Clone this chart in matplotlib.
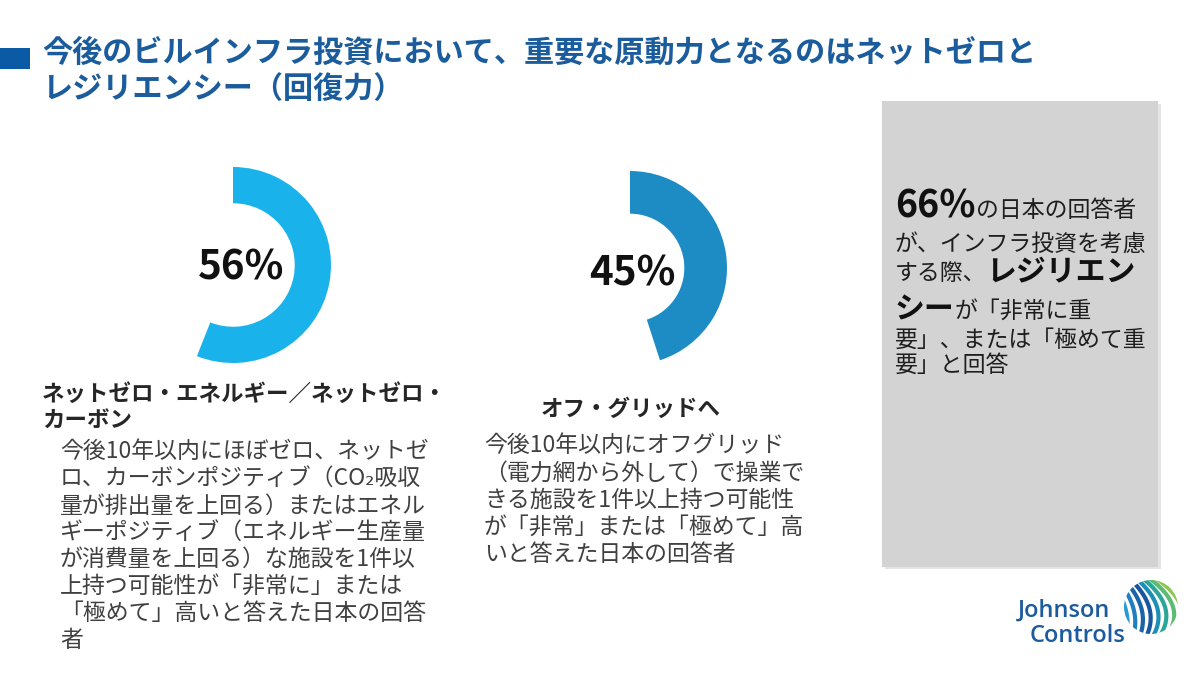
import matplotlib
matplotlib.use('Agg')
import matplotlib.pyplot as plt
from matplotlib.patches import Rectangle, Circle
import numpy as np

plt.rcParams['font.family'] = ['Noto Sans CJK JP', 'DejaVu Sans']

# data
pct_values = [56, 45]
pct_colors = ['#1AB2EB', '#1E8CC4']
callout_pct = 66

title_lines = ['今後のビルインフラ投資において、重要な原動力となるのはネットゼロと',
               'レジリエンシー（回復力）']

head_left = ['ネットゼロ・エネルギー／ネットゼロ・', 'カーボン']
body_left = ['今後10年以内にほぼゼロ、ネットゼ',
             'ロ、カーボンポジティブ（CO₂吸収',
             '量が排出量を上回る）またはエネル',
             'ギーポジティブ（エネルギー生産量',
             'が消費量を上回る）な施設を1件以',
             '上持つ可能性が「非常に」または',
             '「極めて」高いと答えた日本の回答',
             '者']
head_mid = 'オフ・グリッドへ'
body_mid = ['今後10年以内にオフグリッド',
            '（電力網から外して）で操業で',
            'きる施設を1件以上持つ可能性',
            'が「非常」または「極めて」高',
            'いと答えた日本の回答者']

# callout runs: (text, bold, size)
callout_lines = [
    [(f'{callout_pct}%', True, 27), ('の日本の回答者', False, 16.5)],
    [('が、インフラ投資を考慮', False, 16.5)],
    [('する際、', False, 16.5), ('レジリエン', True, 21.5)],
    [('シー', True, 21.5), ('が「非常に重', False, 16.5)],
    [('要」、または「極めて重', False, 16.5)],
    [('要」と回答', False, 16.5)],
]

W, H = 1200, 675
fig = plt.figure(figsize=(12, 6.75), dpi=100)
ax = fig.add_axes([0, 0, 1, 1])
ax.set_xlim(0, W)
ax.set_ylim(H, 0)
ax.axis('off')

# title
ax.add_patch(Rectangle((0, 48), 30, 21, color='#0B5AA6', lw=0))
title_c = '#1B5C9C'
ax.text(42, 53, title_lines[0], fontsize=21.7, fontweight='bold', color=title_c, va='center')
ax.text(42, 89, title_lines[1], fontsize=21.7, fontweight='bold', color=title_c, va='center')

# donuts
donuts = [(233, 265, 98, 0.37), (630, 268, 97, 0.44)]
for (cx, cy, R, w), v, col in zip(donuts, pct_values, pct_colors):
    dax = fig.add_axes([(cx - R) / W, (H - cy - R) / H, 2 * R / W, 2 * R / H])
    dax.pie([v, 100 - v], colors=[col, 'none'], startangle=90, counterclock=False,
            wedgeprops=dict(width=w, edgecolor='none'))
    dax.set_xlim(-1, 1)
    dax.set_ylim(-1, 1)
    dax.set_aspect('equal')
    dax.axis('off')
    dax.text(0.08 if v == 56 else 0.02, -0.03 if v == 56 else -0.06, f'{v}%',
             fontsize=29, fontweight='bold', color='#111111', ha='center', va='center')

head_c = '#262626'
body_c = '#404040'
# left block
ax.text(42, 394, head_left[0], fontsize=16.2, fontweight='bold', color=head_c, va='center')
ax.text(42, 421, head_left[1], fontsize=16.2, fontweight='bold', color=head_c, va='center')
for i, line in enumerate(body_left):
    ax.text(60, 452 + i * 26.9, line, fontsize=16.5, color=body_c, va='center')

# middle block
ax.text(631, 409, head_mid, fontsize=16.2, fontweight='bold', color=head_c, ha='center', va='center')
for i, line in enumerate(body_mid):
    ax.text(484, 446 + i * 27.2, line, fontsize=16.5, color=body_c, va='center')

# callout box
ax.add_patch(Rectangle((885, 104), 276, 465, color='#E4E4E4', lw=0))
ax.add_patch(Rectangle((882, 101), 276, 466, color='#D3D3D3', lw=0))

fig.canvas.draw()
rend = fig.canvas.get_renderer()
baselines = [217, 251, 280, 318, 347, 372]
for runs, yb in zip(callout_lines, baselines):
    x = 895
    for txt, bold, size in runs:
        t = ax.text(x, yb, txt, fontsize=size, fontweight='bold' if bold else 'normal',
                    color='#111111' if bold else '#1E1E1E', va='baseline')
        bb = t.get_window_extent(renderer=rend)
        x += bb.width

# logo
logo_c = '#1C5A9E'
ax.text(1064, 611, 'Johnson', fontsize=17, fontweight='semibold', color=logo_c,
        ha='center', va='center', family=['Open Sans', 'DejaVu Sans'])
ax.text(1078, 636, 'Controls', fontsize=17, fontweight='semibold', color=logo_c,
        ha='center', va='center', family=['Open Sans', 'DejaVu Sans'])
lcx, lcy, lr = 1151, 607, 27
clip = Circle((lcx, lcy), lr, transform=ax.transData, fc='none', ec='none')
ax.add_patch(clip)
stripe_cols = ['#3BB3DF', '#2A9AD2', '#1F7FC0', '#1B64AA', '#1A55A0', '#1E8FB4', '#2BA59A', '#5DBB74', '#8CC851']
for k, sc in enumerate(stripe_cols):
    off = -40 + k * 6.5
    tt = np.linspace(-1.3, 1.3, 50)
    bend = 6 + k * 1.5
    xs = lcx + off + tt * 9 + bend * (1 - tt ** 2)
    ys = lcy + tt * 30
    ln, = ax.plot(xs, ys, color=sc, lw=3.0, solid_capstyle='butt')
    ln.set_clip_path(clip)

fig.savefig('out.png', dpi=100)
